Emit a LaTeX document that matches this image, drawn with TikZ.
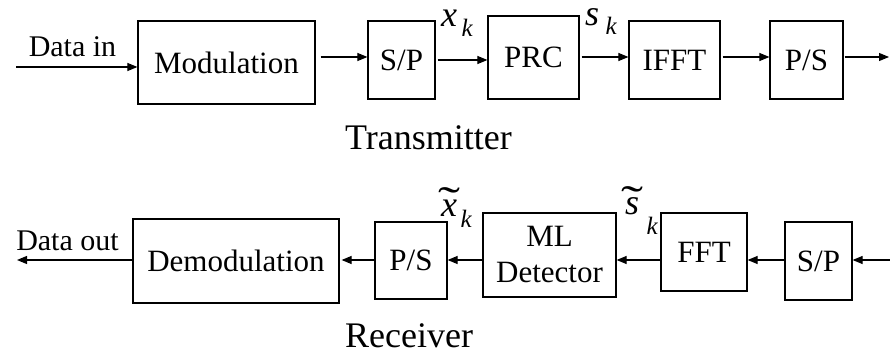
\documentclass[tikz,border=0pt]{standalone}
\usepackage{fontspec}
\setmainfont{Liberation Serif}
\usetikzlibrary{arrows.meta}
\newcommand\tildeover[2]{\ooalign{#2\cr\hidewidth\raisebox{#1}{\fontsize{33}{36}\selectfont\upshape\scalebox{2}[1.3]{\char"02DC}}\hidewidth\cr}}
\newcommand\subk[2]{\hspace{#1}\raisebox{#2}{\fontsize{25}{28}\selectfont k}}
\begin{document}
\begin{tikzpicture}[x=1pt,y=1pt,
  blk/.style={draw,line width=1.2pt,inner sep=0pt,align=center,font=\fontsize{31}{36}\selectfont},
  arr/.style={line width=1.1pt,-{Triangle[length=10pt,width=8pt]}},
  lbl/.style={font=\fontsize{30}{36}\selectfont,anchor=base,inner sep=0pt},
  ttl/.style={font=\fontsize{36}{40}\selectfont,anchor=base west,inner sep=0pt},
  mvar/.style={font=\fontsize{36}{40}\selectfont\itshape,anchor=base west,inner sep=0pt}]
\useasboundingbox (0,0) rectangle (890,356);

% ---------- Transmitter ----------
\node[blk,minimum width=177pt,minimum height=83pt] (mod) at (226.5,293.5) {Modulation};
\node[blk,minimum width=67pt,minimum height=78pt] (sp1) at (401.5,296) {S/P};
\node[blk,minimum width=91pt,minimum height=83pt] (prc) at (533.5,298.5) {PRC};
\node[blk,minimum width=91pt,minimum height=78pt] (ifft) at (674.5,296) {IFFT};
\node[blk,minimum width=73pt,minimum height=78pt] (ps1) at (806.5,296) {P/S};

\coordinate (ya) at (0,299);
\coordinate (yb) at (0,296);
\coordinate (din) at (16,289);
\coordinate (tout) at (889,299);

\draw[arr] (din) -- (din -| mod.west);
\draw[arr] ([xshift=5pt]mod.east |- ya) -- (sp1.west |- ya);
\draw[arr] ([xshift=2pt]sp1.east |- yb) -- (prc.west |- yb);
\draw[arr] ([xshift=2pt]prc.east |- ya) -- (ifft.west |- ya);
\draw[arr] ([xshift=2pt]ifft.east |- ya) -- (ps1.west |- ya);
\draw[arr] ([xshift=1pt]ps1.east |- ya) -- (tout);

\node[lbl] (datain) at (72.5,299) {Data in};
\node[mvar] (xk) at (441,329) {x\subk{4.5pt}{-10pt}};
\node[mvar] (sk) at (585,330) {s\subk{6.5pt}{-9pt}};
\node[ttl] (tx) at (345,206) {Transmitter};

% ---------- Receiver ----------
\node[blk,minimum width=206pt,minimum height=84pt] (dem) at (236,95) {Demodulation};
\node[blk,minimum width=72pt,minimum height=77pt] (ps2) at (411,95.5) {P/S};
\node[blk,minimum width=133pt,minimum height=84pt] (ml) at (549.5,101) {ML\\Detector};
\node[blk,minimum width=86pt,minimum height=78pt] (fft) at (704,104) {FFT};
\node[blk,minimum width=67pt,minimum height=78pt] (sp2) at (818.5,95) {S/P};

\coordinate (yr) at (0,96);
\coordinate (rin) at (890,96);
\coordinate (dout) at (17,96);

\draw[arr] (rin) -- (rin -| sp2.east);
\draw[arr] (sp2.west |- yr) -- (fft.east |- yr);
\draw[arr] (fft.west |- yr) -- (ml.east |- yr);
\draw[arr] (ml.west |- yr) -- (ps2.east |- yr);
\draw[arr] (ps2.west |- yr) -- ([xshift=2pt]dem.east |- yr);
\draw[arr] (dem.west |- yr) -- (dout);

\node[lbl] (dataout) at (67.5,106) {Data out};
\node[mvar] (xt) at (441,139) {\tildeover{1pt}{x}\subk{3.5pt}{-10pt}};
\node[mvar] (st) at (625,141) {\tildeover{-1pt}{s}\subk{7.5pt}{-20pt}};
\node[ttl] (rx) at (345,9) {Receiver};
\end{tikzpicture}
\end{document}
